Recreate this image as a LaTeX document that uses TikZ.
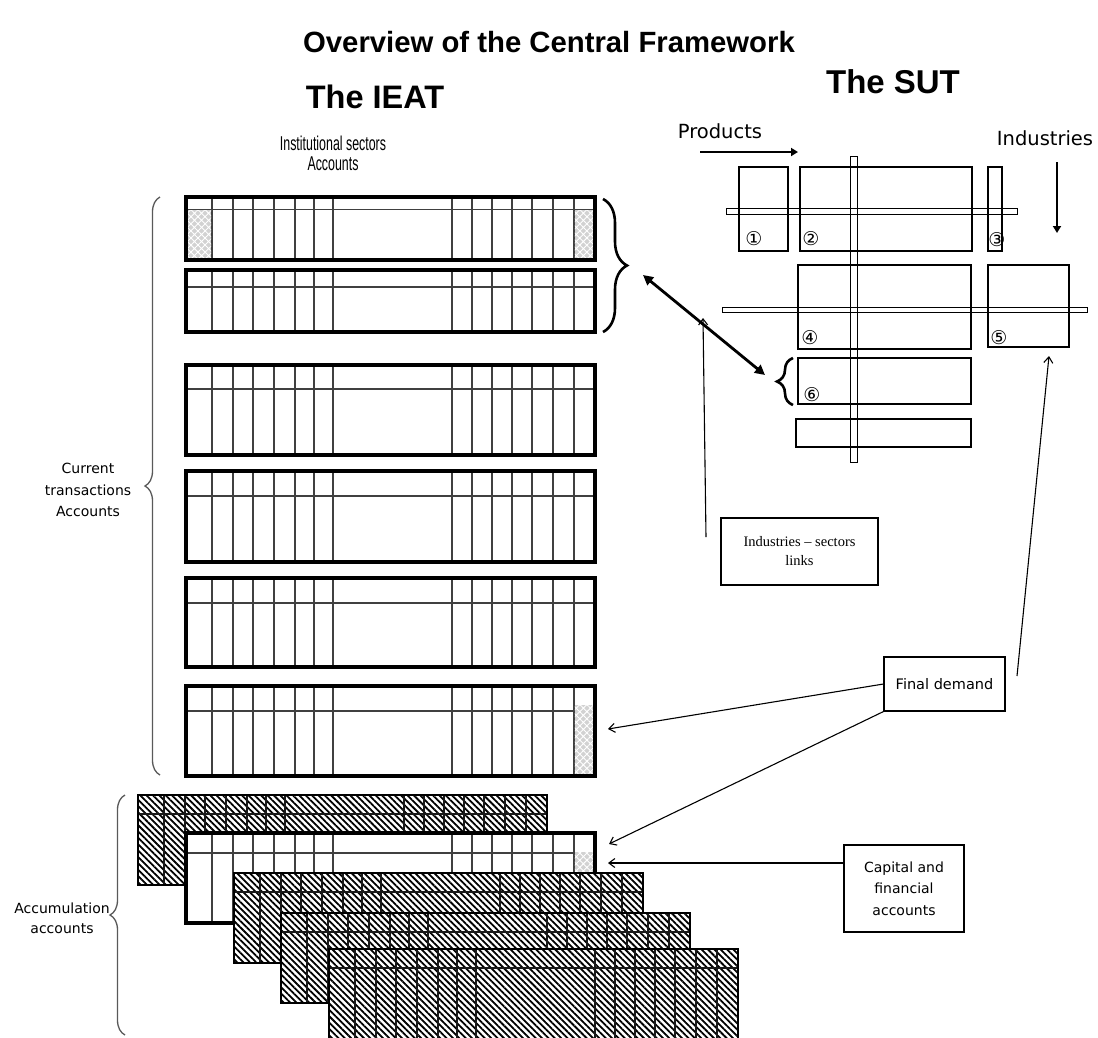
\documentclass[tikz,border=0pt]{standalone}
\usepackage{fontspec}
\setmainfont{Liberation Sans}
\newfontfamily\dv{DejaVu Sans}
\newfontfamily\narrowsans[FakeStretch=0.62]{Liberation Sans}
\newfontfamily\serifface{Liberation Serif}
\usetikzlibrary{patterns.meta,decorations.pathreplacing,arrows.meta}

\newcommand{\ieatgrid}[5]{% x y height lineoffset style
  \begin{scope}[shift={(#1,#2)}]
    \foreach \cx in {26,47,67,88,109,128,147,266,286,306,326,346,367,388}
      {\draw[#5] (\cx,0) -- (\cx,#3);}
    \draw[#5] (0,#4) -- (409,#4);
  \end{scope}}

\newcommand{\hatchlayer}[2]{%
  \fill[hatchfill] (#1,#2) rectangle ++(409,90);
  \ieatgrid{#1}{#2}{90}{19}{hinner}
  \draw[hframe] (#1,#2) rectangle ++(409,90);}

\begin{document}
\begin{tikzpicture}[x=1pt,y=-1pt,
  outer/.style={line width=3.2pt},
  inner/.style={line width=1.6pt, draw=black!75},
  hinner/.style={line width=1.4pt, draw=black!90},
  hframe/.style={line width=1.1pt, draw=black},
  hatchfill/.style={fill=white, postaction={pattern={Lines[angle=-45,distance=4.5pt,line width=1.8pt]}, pattern color=black}},
  shadecell/.style={fill=gray!35, postaction={pattern={Hatch[angle=45,distance=5pt,line width=0.9pt]}, pattern color=white}},
  sutbox/.style={draw, line width=1.1pt},
  sutbar/.style={draw, line width=0.9pt},
  graybrace/.style={draw=black!65, line width=1.3pt, decorate, decoration={brace, amplitude=15pt}},
  blackbrace/.style={draw=black, line width=2.6pt, decorate, decoration={brace, amplitude=#1}},
  thickarrow/.style={line width=2.8pt, -{Triangle[length=7pt,width=8pt]}},
  dblarrow/.style={line width=2.8pt, {Triangle[length=10pt,width=10pt]}-{Triangle[length=10pt,width=10pt]}},
  thinarrow/.style={line width=1.1pt, -{Straight Barb[length=6pt,width=9pt]}},
  labbox/.style={draw, line width=1.1pt, inner sep=2pt},
  circnum/.style={font=\dv\fontsize{19}{19}\selectfont, inner sep=0pt},
  smalltxt/.style={font=\dv\fontsize{14}{21.5}\selectfont, align=center}
]
\useasboundingbox (0,0) rectangle (1098,1037);
\fill[white] (0,0) rectangle (1098,1037);

% ---------- titles
\node[font=\bfseries\fontsize{29.3}{34}\selectfont] (title) at (549,42) {Overview of the Central Framework};
\node[font=\bfseries\fontsize{32.5}{38}\selectfont] (ieat) at (375,97) {The IEAT};
\node[font=\bfseries\fontsize{33}{38}\selectfont] (sut) at (893,82) {The SUT};
\node[font=\narrowsans\fontsize{20}{20}\selectfont, align=center] (inst) at (333,153) {Institutional sectors\\Accounts};
\node[font=\dv\fontsize{19.5}{24}\selectfont] (prod) at (720,131) {Products};
\node[font=\dv\fontsize{19.5}{24}\selectfont] (ind) at (1045,138) {Industries};

% ---------- current transactions blocks
\foreach \by/\bh/\bl in {197/63/12.5, 270/62/17, 365/90/24, 471/91/25, 578/89/25, 686/90/25}
  {\ieatgrid{186}{\by}{\bh}{\bl}{inner}}
\fill[shadecell] (186,210.4) rectangle (211.2,260);
\fill[shadecell] (574.8,210.4) rectangle (595,260);
\fill[shadecell] (574.8,705) rectangle (595,776);
\foreach \by/\bh in {197/63, 270/62, 365/90, 471/91, 578/89, 686/90}
  {\draw[outer] (186,\by) rectangle ++(409,\bh);}

% braces
\draw[graybrace] (160,775) -- (160,197);
\node[smalltxt] (cta) at (88,490) {Current\\transactions\\Accounts};
\draw[blackbrace=24pt] (603,199) -- (603,332);

% ---------- accumulation accounts
\hatchlayer{138}{795}
\fill[white] (186,833) rectangle ++(409,90);
\ieatgrid{186}{833}{90}{20}{inner}
\fill[shadecell] (574.8,852) rectangle (595,923);
\draw[outer] (186,833) rectangle ++(409,90);
\hatchlayer{234}{873}
\hatchlayer{281}{913}
\hatchlayer{329}{949}
\draw[graybrace] (125,1035) -- (125,795);
\node[smalltxt, font=\dv\fontsize{14}{20}\selectfont] (acc) at (62,918) {Accumulation\\accounts};

% ---------- SUT
\draw[sutbox] (739,167) rectangle (788,251);
\draw[sutbox] (800,167) rectangle (972,251);
\draw[sutbox] (988,167) rectangle (1002,251);
\draw[sutbar] (726,208) rectangle (1017,214);
\draw[sutbox] (798,265) rectangle (971,349);
\draw[sutbox] (988,265) rectangle (1069,347);
\draw[sutbar] (722,307) rectangle (1087,312);
\draw[sutbox] (798,358) rectangle (971,404);
\draw[sutbox] (796,419) rectangle (971,447);
\draw[sutbar] (850,156) rectangle (857,462);
\draw[blackbrace=16pt] (793,405) -- (793,358);
\node[circnum] (n1) at (754,239) {①};
\node[circnum] (n2) at (811,239) {②};
\node[circnum] (n3) at (997,240) {③};
\node[circnum] (n4) at (810,338) {④};
\node[circnum] (n5) at (999,338) {⑤};
\node[circnum] (n6) at (812,395) {⑥};

% ---------- arrows of the SUT
\coordinate (pa1) at (700,152);
\coordinate (pa2) at (798,152);
\draw[thickarrow] (pa1) -- (pa2);
\coordinate (ia1) at (1057,162);
\coordinate (ia2) at (1057,233);
\draw[thickarrow] (ia1) -- (ia2);
\coordinate (da1) at (643,275);
\coordinate (da2) at (765,375);
\draw[dblarrow] (da1) -- (da2);

% ---------- label boxes
\node[labbox, font=\serifface\fontsize{14.5}{19}\selectfont, align=center, minimum width=157pt, minimum height=67pt] (isl) at (799.5,551.5) {Industries – sectors\\links};
\coordinate (islA) at (706,537);
\coordinate (islB) at (703,318);
\draw[thinarrow] (islA) -- (islB);

\node[labbox, font=\dv\fontsize{14.5}{21}\selectfont, minimum width=121pt, minimum height=54pt] (fd) at (944.5,684) {Final demand};
\coordinate (tip6) at (608,729);
\coordinate (tipB) at (609,844);
\coordinate (fdE) at (1017,676);
\coordinate (tip5) at (1049,356);
\draw[thinarrow] (fd.west) -- (tip6);
\draw[thinarrow] (fd.south west) -- (tipB);
\draw[thinarrow] (fdE) -- (tip5);

\node[labbox, smalltxt, minimum width=120pt, minimum height=87pt] (cap) at (904,888.5) {Capital and\\financial\\accounts};
\coordinate (tipC) at (608,863);
\draw[thinarrow] (cap.west |- tipC) -- (tipC);
\end{tikzpicture}
\end{document}
